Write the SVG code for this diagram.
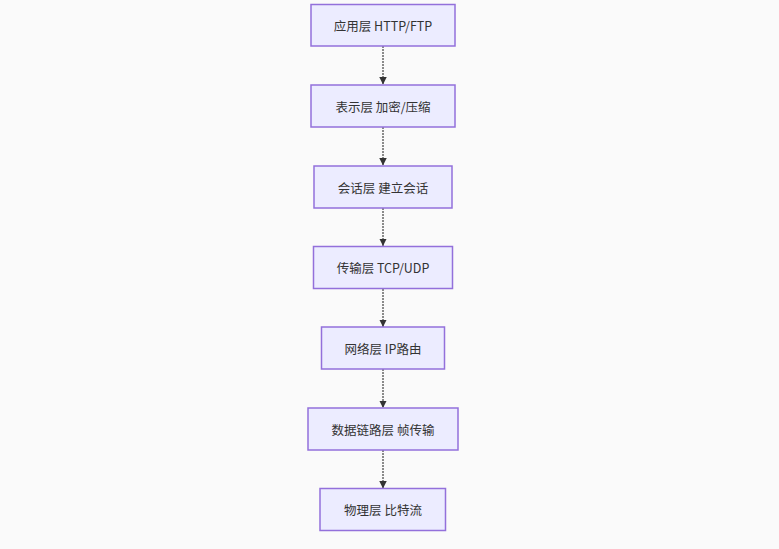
<svg xmlns="http://www.w3.org/2000/svg" width="779" height="549" viewBox="0 0 779 549">
<style>
.node rect{fill:#ECECFF;stroke:#9370DB;stroke-width:1.5}
.node text{font-family:"Noto Sans CJK SC","Noto Sans",sans-serif;font-size:12.5px;fill:#333;text-anchor:middle;dominant-baseline:central}
.edge{stroke:#666;stroke-width:1.5;stroke-dasharray:2,1;fill:none}
</style>
<defs>
<marker id="arr" viewBox="0 0 10 10" refX="10" refY="5" markerWidth="5" markerHeight="5" orient="auto" markerUnits="strokeWidth">
<path d="M0,0 L10,5 L0,10 z" fill="#333"/>
</marker>
</defs>
<rect width="779" height="549" fill="#fafafa"/>
<g id="edges">
<line class="edge" x1="383" y1="46" x2="383" y2="84.5" marker-end="url(#arr)"/>
<line class="edge" x1="383" y1="127" x2="383" y2="165.5" marker-end="url(#arr)"/>
<line class="edge" x1="383" y1="208" x2="383" y2="246" marker-end="url(#arr)"/>
<line class="edge" x1="383" y1="289" x2="383" y2="327" marker-end="url(#arr)"/>
<line class="edge" x1="383" y1="369" x2="383" y2="408" marker-end="url(#arr)"/>
<line class="edge" x1="383" y1="450" x2="383" y2="488.5" marker-end="url(#arr)"/>
</g>
<g id="n1" class="node"><rect x="311" y="4.5" width="144" height="41.5"/><text x="383" y="25">应用层 HTTP/FTP</text></g>
<g id="n2" class="node"><rect x="311" y="85" width="144" height="42"/><text x="383" y="106">表示层 加密/压缩</text></g>
<g id="n3" class="node"><rect x="314" y="166" width="138" height="42"/><text x="383" y="187">会话层 建立会话</text></g>
<g id="n4" class="node"><rect x="313.5" y="246.5" width="139" height="42"/><text x="383" y="267.5">传输层 TCP/UDP</text></g>
<g id="n5" class="node"><rect x="321.5" y="327" width="123" height="42"/><text x="383" y="348">网络层 IP路由</text></g>
<g id="n6" class="node"><rect x="308" y="408" width="150" height="42"/><text x="383" y="429">数据链路层 帧传输</text></g>
<g id="n7" class="node"><rect x="320" y="488.5" width="125.5" height="42"/><text x="383" y="509.5">物理层 比特流</text></g>
</svg>
